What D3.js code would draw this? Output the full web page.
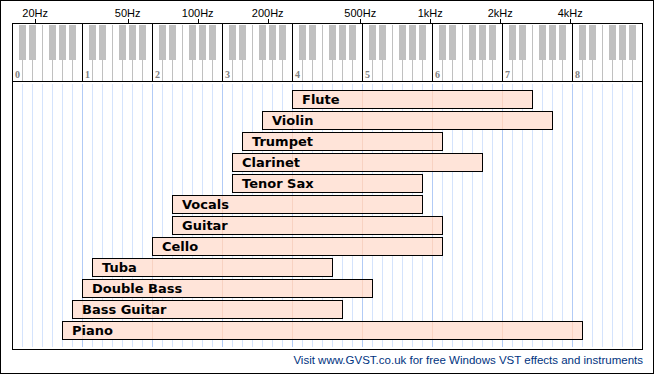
<!DOCTYPE html>
<html lang="en">
<head>
<meta charset="UTF-8" />
<title>Instrument Frequency Ranges</title>
<style>
  body { margin: 0; background: #fff; }
  svg { display: block; }
  .crisp { shape-rendering: crispEdges; }
</style>
</head>
<body>
<script src="https://cdn.jsdelivr.net/npm/d3@7/dist/d3.min.js"></script>
<script>
// instruments, top to bottom, with lowest / highest white key reached
var instruments = ["Flute", "Violin", "Trumpet", "Clarinet", "Tenor Sax", "Vocals",
                   "Guitar", "Cello", "Tuba", "Double Bass", "Bass Guitar", "Piano"];
var lowNotes  = ["C4", "G3", "E3", "D3", "D3", "E2", "E2", "C2", "D1", "C1", "B0", "A0"];
var highNotes = ["E7", "G7", "C6", "G6", "A5", "A5", "C6", "C6", "F4", "C5", "G4", "C8"];

// frequency ticks along the top
var freqTicks  = [20, 50, 100, 200, 500, 1000, 2000, 4000];
var freqLabels = ["20Hz", "50Hz", "100Hz", "200Hz", "500Hz", "1kHz", "2kHz", "4kHz"];

var octaves = [0, 1, 2, 3, 4, 5, 6, 7, 8];
var whiteNotes = ["C", "D", "E", "F", "G", "A", "B"];
var blackAfter = [0, 1, 3, 4, 5];   // white key index a black key follows

var width = 655, height = 375;
var frame = { left: 12, right: 642, top: 23, kbBottom: 81, bottom: 349 };

var svg = d3.select("body").append("svg")
            .attr("width", width)
            .attr("height", height);

var nKeys = octaves.length * 7;
var keyX = d3.scaleLinear().domain([0, nKeys]).range([frame.left, frame.right]);
// log frequency axis, one octave per 7 white keys
var freqX = d3.scaleLog().domain([15.9, 15.9 * 512]).range([frame.left, frame.right]);

function noteIndex(n) {
  return whiteNotes.indexOf(n[0]) + 7 * (+n.slice(1));
}

var yBand = d3.scaleBand().domain(instruments).range([90, 339]).paddingInner(3 / 21).paddingOuter(0);

// outer border
svg.append("rect").attr("class", "crisp")
   .attr("x", 0.5).attr("y", 0.5)
   .attr("width", width - 2).attr("height", height - 2)
   .attr("fill", "#fff").attr("stroke", "#000");

// plot background
svg.append("rect").attr("class", "crisp")
   .attr("x", frame.left).attr("y", frame.top)
   .attr("width", frame.right - frame.left).attr("height", frame.bottom - frame.top)
   .attr("fill", "#fff");

// grid lines, one per white key
svg.append("g").selectAll("line")
   .data(d3.range(1, nKeys))
   .enter().append("line").attr("class", "crisp")
   .attr("x1", function(d) { return keyX(d) + 0.5; })
   .attr("x2", function(d) { return keyX(d) + 0.5; })
   .attr("y1", 84).attr("y2", 347)
   .attr("stroke", function(d) { return d % 7 == 0 ? "#b2cbf6" : "#d4e3fc"; });

// instrument bars
var bars = svg.append("g").selectAll("g")
   .data(instruments)
   .enter().append("g");

bars.append("rect").attr("class", "crisp")
   .attr("x", function(d, i) { return keyX(noteIndex(lowNotes[i])) + 0.5; })
   .attr("y", function(d) { return Math.round(yBand(d)) + 0.5; })
   .attr("width", function(d, i) { return keyX(noteIndex(highNotes[i]) + 1) - keyX(noteIndex(lowNotes[i])); })
   .attr("height", Math.round(yBand.bandwidth()))
   .attr("fill", "#ffe4d9")
   .attr("stroke", "#000");

// faint octave lines showing through the bars
bars.each(function(d, i) {
  var lo = noteIndex(lowNotes[i]), hi = noteIndex(highNotes[i]) + 1;
  var inside = octaves.map(function(o) { return o * 7; })
                      .filter(function(k) { return k > lo && k < hi; });
  d3.select(this).selectAll("line")
    .data(inside)
    .enter().append("line").attr("class", "crisp")
    .attr("x1", function(k) { return keyX(k) + 0.5; })
    .attr("x2", function(k) { return keyX(k) + 0.5; })
    .attr("y1", Math.round(yBand(d)) + 1)
    .attr("y2", Math.round(yBand(d)) + Math.round(yBand.bandwidth()))
    .attr("stroke", "#f8d2c2");
});

bars.append("text")
   .attr("x", function(d, i) { return keyX(noteIndex(lowNotes[i])) + 10; })
   .attr("y", function(d) { return Math.round(yBand(d)) + 14; })
   .attr("font-family", "DejaVu Sans, sans-serif")
   .attr("font-weight", "bold")
   .attr("font-size", "13px")
   .attr("fill", "#000")
   .text(function(d) { return d; });

// keyboard
var kb = svg.append("g");

kb.selectAll("line.sep")
  .data(d3.range(1, nKeys).filter(function(k) { return k % 7 != 0; }))
  .enter().append("line").attr("class", "crisp sep")
  .attr("x1", function(k) { return keyX(k) + 0.5; })
  .attr("x2", function(k) { return keyX(k) + 0.5; })
  .attr("y1", function(k) { return k % 7 == 3 ? 25 : 60; })
  .attr("y2", frame.kbBottom)
  .attr("stroke", "#c0c0c0");

var blackKeys = [];
octaves.forEach(function(o) {
  blackAfter.forEach(function(w) { blackKeys.push(o * 7 + w + 1); });
});

kb.selectAll("rect.black")
  .data(blackKeys)
  .enter().append("rect").attr("class", "crisp black")
  .attr("x", function(k) { return keyX(k) - 3; })
  .attr("y", 25)
  .attr("width", 7)
  .attr("height", 35)
  .attr("fill", "#c0c0c0");

kb.selectAll("line.oct")
  .data(octaves.slice(1))
  .enter().append("line").attr("class", "crisp oct")
  .attr("x1", function(o) { return keyX(o * 7) + 0.5; })
  .attr("x2", function(o) { return keyX(o * 7) + 0.5; })
  .attr("y1", frame.top).attr("y2", frame.kbBottom)
  .attr("stroke", "#000");

kb.selectAll("text")
  .data(octaves)
  .enter().append("text")
  .attr("x", function(o) { return keyX(o * 7) + 3; })
  .attr("y", 78)
  .attr("font-family", "Liberation Serif, serif")
  .attr("font-weight", "bold")
  .attr("font-size", "10px")
  .attr("fill", "#808080")
  .text(function(o) { return o; });

kb.append("line").attr("class", "crisp")
  .attr("x1", frame.left).attr("x2", frame.right)
  .attr("y1", frame.kbBottom + 0.5).attr("y2", frame.kbBottom + 0.5)
  .attr("stroke", "#000");

// frame
svg.append("rect").attr("class", "crisp")
   .attr("x", frame.left + 0.5).attr("y", frame.top + 0.5)
   .attr("width", frame.right - frame.left).attr("height", frame.bottom - frame.top)
   .attr("fill", "none").attr("stroke", "#000");

// frequency axis on top
var freqAxis = svg.append("g");
freqAxis.selectAll("line")
  .data(freqTicks)
  .enter().append("line").attr("class", "crisp")
  .attr("x1", function(f) { return Math.round(freqX(f)) + 0.5; })
  .attr("x2", function(f) { return Math.round(freqX(f)) + 0.5; })
  .attr("y1", 19).attr("y2", frame.top)
  .attr("stroke", "#000");

freqAxis.selectAll("text")
  .data(freqTicks)
  .enter().append("text")
  .attr("x", function(f) { return freqX(f); })
  .attr("y", 17)
  .attr("text-anchor", "middle")
  .attr("font-family", "Liberation Sans, Arial, sans-serif")
  .attr("font-size", "11px")
  .attr("fill", "#000")
  .text(function(f, i) { return freqLabels[i]; });

// footer
svg.append("text")
   .attr("x", frame.right + 1)
   .attr("y", 364)
   .attr("text-anchor", "end")
   .attr("font-family", "Liberation Sans, Arial, sans-serif")
   .attr("font-size", "11.5px")
   .attr("fill", "#003380")
   .text("Visit www.GVST.co.uk for free Windows VST effects and instruments");
</script>
</body>
</html>
